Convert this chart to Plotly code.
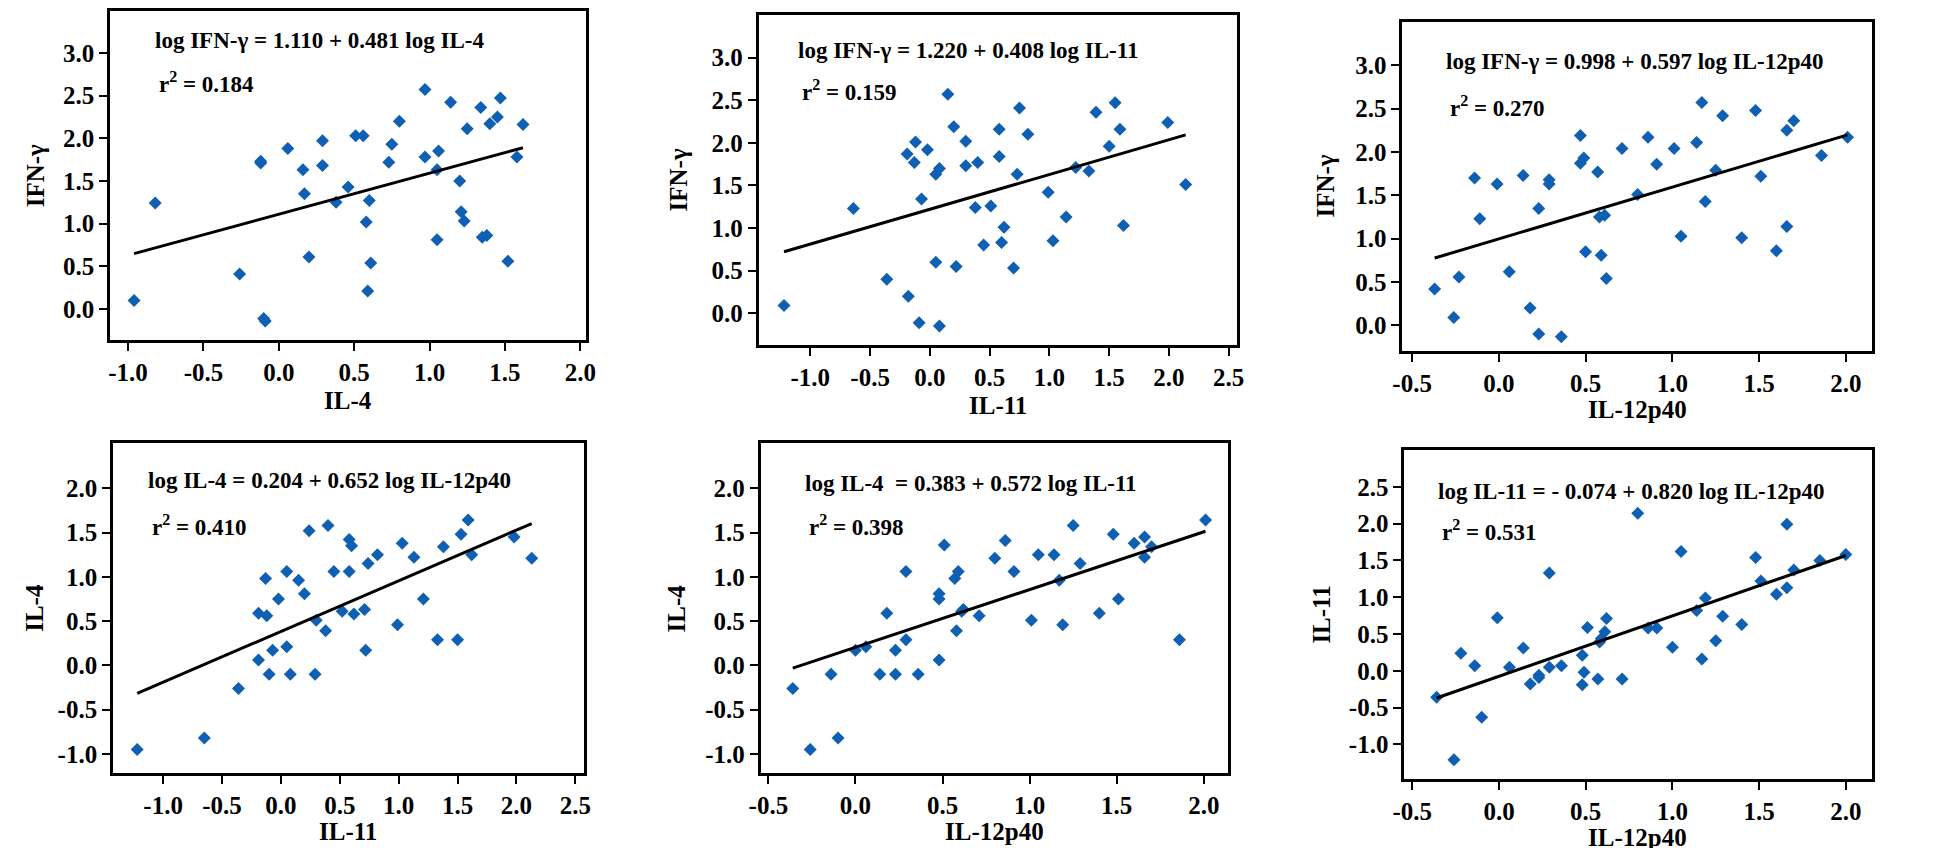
import numpy as np
import plotly.graph_objects as go

W, H = 1946, 848
FONT = "Liberation Serif, Times New Roman, serif"
BLUE = "#0F5FB2"

# ---------------- data ----------------
x1 = [-0.96, -0.82, -0.26, -0.12, -0.12, -0.10, -0.09, 0.06, 0.16, 0.17, 0.20, 0.29, 0.29, 0.38, 0.46, 0.51, 0.56, 0.58, 0.60, 0.59, 0.61, 0.73, 0.75, 0.80, 0.97, 0.97, 1.05, 1.05, 1.06, 1.14, 1.20, 1.21, 1.23, 1.25, 1.34, 1.35, 1.38, 1.40, 1.45, 1.47, 1.52, 1.58, 1.62]
y1 = [0.10, 1.24, 0.41, 1.73, 1.71, -0.11, -0.14, 1.88, 1.63, 1.35, 0.61, 1.97, 1.68, 1.25, 1.43, 2.03, 2.03, 1.02, 1.27, 0.21, 0.54, 1.72, 1.93, 2.20, 2.57, 1.78, 1.63, 0.81, 1.85, 2.42, 1.50, 1.14, 1.03, 2.11, 2.36, 0.84, 0.86, 2.17, 2.25, 2.47, 0.56, 1.78, 2.16]

x2 = [-1.22, -0.64, -0.36, -0.19, -0.18, -0.13, -0.12, -0.09, -0.07, -0.02, 0.05, 0.05, 0.08, 0.08, 0.15, 0.20, 0.22, 0.30, 0.30, 0.38, 0.40, 0.45, 0.51, 0.58, 0.58, 0.60, 0.62, 0.70, 0.73, 0.75, 0.82, 0.99, 1.03, 1.14, 1.22, 1.33, 1.39, 1.50, 1.55, 1.59, 1.62, 1.99, 2.14]
y2 = [0.09, 1.23, 0.40, 1.87, 0.20, 1.77, 2.01, -0.11, 1.34, 1.92, 1.63, 0.60, 1.70, -0.15, 2.57, 2.19, 0.55, 1.73, 2.02, 1.24, 1.77, 0.80, 1.26, 2.16, 1.84, 0.83, 1.01, 0.53, 1.63, 2.41, 2.10, 1.42, 0.85, 1.13, 1.71, 1.67, 2.36, 1.96, 2.47, 2.16, 1.03, 2.24, 1.51]

x3 = [-0.37, -0.26, -0.23, -0.14, -0.11, -0.01, 0.06, 0.14, 0.18, 0.23, 0.23, 0.29, 0.29, 0.36, 0.47, 0.47, 0.49, 0.50, 0.57, 0.58, 0.59, 0.61, 0.62, 0.71, 0.80, 0.86, 0.91, 1.01, 1.05, 1.14, 1.17, 1.19, 1.25, 1.29, 1.40, 1.48, 1.51, 1.60, 1.66, 1.66, 1.70, 1.86, 2.01]
y3 = [0.42, 0.09, 0.56, 1.70, 1.23, 1.63, 0.62, 1.73, 0.20, 1.35, -0.10, 1.68, 1.63, -0.13, 2.19, 1.87, 1.93, 0.85, 1.77, 1.25, 0.81, 1.27, 0.54, 2.04, 1.51, 2.17, 1.86, 2.04, 1.03, 2.11, 2.57, 1.43, 1.79, 2.42, 1.01, 2.48, 1.72, 0.86, 2.25, 1.14, 2.36, 1.96, 2.17]

x4 = [-1.22, -0.65, -0.36, -0.19, -0.19, -0.13, -0.12, -0.10, -0.07, -0.02, 0.05, 0.05, 0.08, 0.15, 0.20, 0.24, 0.29, 0.30, 0.38, 0.40, 0.45, 0.52, 0.58, 0.58, 0.60, 0.62, 0.71, 0.72, 0.74, 0.82, 0.99, 1.03, 1.13, 1.21, 1.33, 1.38, 1.50, 1.53, 1.59, 1.62, 1.98, 2.13]
y4 = [-0.95, -0.82, -0.26, 0.06, 0.59, 0.98, 0.56, -0.10, 0.17, 0.75, 0.21, 1.06, -0.10, 0.96, 0.81, 1.52, -0.10, 0.51, 0.39, 1.58, 1.06, 0.61, 1.06, 1.42, 1.35, 0.58, 0.63, 0.17, 1.15, 1.25, 0.46, 1.38, 1.22, 0.75, 0.29, 1.34, 0.29, 1.48, 1.64, 1.25, 1.45, 1.21]

x5 = [-0.36, -0.26, -0.14, -0.10, 0.00, 0.06, 0.14, 0.18, 0.23, 0.23, 0.29, 0.29, 0.36, 0.48, 0.48, 0.48, 0.51, 0.57, 0.58, 0.59, 0.61, 0.62, 0.71, 0.80, 0.86, 0.91, 1.01, 1.05, 1.14, 1.17, 1.19, 1.25, 1.29, 1.40, 1.48, 1.51, 1.60, 1.66, 1.66, 1.70, 1.86, 2.01]
y5 = [-0.26, -0.95, -0.10, -0.82, 0.17, 0.21, -0.10, 0.59, 0.17, -0.10, 1.06, 0.29, -0.10, 0.06, 0.81, 0.75, 1.36, 0.98, 0.39, 1.06, 0.61, 0.63, 0.56, 1.21, 1.41, 1.06, 0.51, 1.25, 1.25, 0.96, 0.46, 1.58, 1.15, 0.59, 1.48, 0.75, 1.38, 1.45, 1.22, 1.34, 0.29, 1.64]

x6 = [-0.36, -0.26, -0.22, -0.14, -0.10, -0.01, 0.06, 0.14, 0.18, 0.23, 0.23, 0.29, 0.29, 0.36, 0.48, 0.48, 0.49, 0.51, 0.57, 0.58, 0.59, 0.61, 0.62, 0.71, 0.80, 0.86, 0.91, 1.00, 1.05, 1.14, 1.17, 1.19, 1.25, 1.29, 1.40, 1.48, 1.51, 1.60, 1.66, 1.66, 1.70, 1.85, 2.00]
y6 = [-0.36, -1.21, 0.24, 0.07, -0.63, 0.72, 0.05, 0.31, -0.18, -0.09, -0.06, 1.33, 0.05, 0.07, 0.21, -0.19, -0.02, 0.59, -0.11, 0.39, 0.44, 0.53, 0.71, -0.11, 2.14, 0.58, 0.58, 0.32, 1.62, 0.82, 0.16, 0.99, 0.41, 0.74, 0.63, 1.54, 1.22, 1.04, 1.99, 1.13, 1.37, 1.50, 1.58]

# regression lines drawn (intercept, slope)
line_intercepts = [1.110, 1.220, 0.998, 0.383, 0.204, -0.074]
line_slopes = [0.481, 0.408, 0.597, 0.572, 0.652, 0.820]

equations = [
    "log IFN-γ = 1.110 + 0.481 log IL-4",
    "log IFN-γ = 1.220 + 0.408 log IL-11",
    "log IFN-γ = 0.998 + 0.597 log IL-12p40",
    "log IL-4 = 0.204 + 0.652 log IL-12p40",
    "log IL-4\u00a0 = 0.383 + 0.572 log IL-11",
    "log IL-11 = - 0.074 + 0.820 log IL-12p40",
]
r2_values = ["0.184", "0.159", "0.270", "0.410", "0.398", "0.531"]
x_titles = ["IL-4", "IL-11", "IL-12p40", "IL-11", "IL-12p40", "IL-12p40"]
y_titles = ["IFN-γ", "IFN-γ", "IFN-γ", "IL-4", "IL-4", "IL-11"]

xt_a = [-1.0, -0.5, 0.0, 0.5, 1.0, 1.5, 2.0]
xt_a_lab = ["-1.0", "-0.5", "0.0", "0.5", "1.0", "1.5", "2.0"]
xt_b = [-1.0, -0.5, 0.0, 0.5, 1.0, 1.5, 2.0, 2.5]
xt_b_lab = ["-1.0", "-0.5", "0.0", "0.5", "1.0", "1.5", "2.0", "2.5"]
xt_c = [-0.5, 0.0, 0.5, 1.0, 1.5, 2.0]
xt_c_lab = ["-0.5", "0.0", "0.5", "1.0", "1.5", "2.0"]
yt_a = [0.0, 0.5, 1.0, 1.5, 2.0, 2.5, 3.0]
yt_a_lab = ["0.0", "0.5", "1.0", "1.5", "2.0", "2.5", "3.0"]
yt_b = [-1.0, -0.5, 0.0, 0.5, 1.0, 1.5, 2.0]
yt_b_lab = ["-1.0", "-0.5", "0.0", "0.5", "1.0", "1.5", "2.0"]
yt_c = [-1.0, -0.5, 0.0, 0.5, 1.0, 1.5, 2.0, 2.5]
yt_c_lab = ["-1.0", "-0.5", "0.0", "0.5", "1.0", "1.5", "2.0", "2.5"]

xs = [x1, x2, x3, x4, x5, x6]
ys = [y1, y2, y3, y4, y5, y6]

# ---------------- layout (pixel boxes) ----------------
boxes = [
    (91, 572, 3, 332),
    (747, 1231, 7, 337),
    (1398, 1873, 14, 343),
    (94, 570, 435, 765),
    (749, 1222, 435, 765),
    (1400, 1873, 442, 771),
]
xranges = [[-1.12, 2.035], [-1.433, 2.57], [-0.557, 2.15], [-1.426, 2.57], [-0.545, 2.14], [-0.547, 2.15]]
yranges = [[-0.363, 3.49], [-0.372, 3.5], [-0.295, 3.5], [-1.214, 2.51], [-1.214, 2.51], [-1.47, 3.0]]
xticks = [(xt_a, xt_a_lab), (xt_b, xt_b_lab), (xt_c, xt_c_lab), (xt_b, xt_b_lab), (xt_c, xt_c_lab), (xt_c, xt_c_lab)]
yticks = [(yt_a, yt_a_lab), (yt_a, yt_a_lab), (yt_a, yt_a_lab), (yt_b, yt_b_lab), (yt_b, yt_b_lab), (yt_c, yt_c_lab)]

eq_pos = [(135, 33), (785, 43), (1440, 54), (127, 472), (792, 475), (1432, 483)]
r2_pos = [(139, 75), (789, 83), (1444, 98), (131, 517), (796, 517), (1436, 522)]
ytitle_x = [16, 666, 1320, 14, 664, 1316]
xtitle_y = [392, 397, 401, 823, 823, 829]


def px(x):
    return x / W


def py(y):
    return 1 - y / H


fig = go.Figure()
layout = dict(
    width=W, height=H,
    margin=dict(l=0, r=0, t=0, b=0),
    paper_bgcolor="white", plot_bgcolor="white",
    showlegend=False,
    font=dict(family=FONT, color="black", size=23, weight="bold"),
)
annotations = []

for i in range(6):
    n = i + 1
    xa = "x" if n == 1 else f"x{n}"
    ya = "y" if n == 1 else f"y{n}"
    L, R, T, B = boxes[i]
    common = dict(
        showline=True, mirror=True, linecolor="black", linewidth=2.5,
        ticks="outside", ticklen=8, tickwidth=2, tickcolor="black",
        showgrid=False, zeroline=False,
        tickfont=dict(family=FONT, size=25, color="black", weight="bold"),
        tickmode="array",
    )
    layout["xaxis" if n == 1 else f"xaxis{n}"] = dict(
        domain=[px(L), px(R)], range=xranges[i], anchor=ya,
        tickvals=xticks[i][0], ticktext=xticks[i][1], **common)
    layout["yaxis" if n == 1 else f"yaxis{n}"] = dict(
        domain=[py(B), py(T)], range=yranges[i], anchor=xa,
        tickvals=yticks[i][0], ticktext=yticks[i][1], **common)

    fig.add_trace(go.Scatter(
        x=xs[i], y=ys[i], mode="markers", xaxis=xa, yaxis=ya,
        marker=dict(symbol="diamond", size=10, color=BLUE, line=dict(width=0)),
        hoverinfo="skip"))
    xl = np.array([min(xs[i]), max(xs[i])])
    yl = line_intercepts[i] + line_slopes[i] * xl
    fig.add_trace(go.Scatter(
        x=xl, y=yl, mode="lines", xaxis=xa, yaxis=ya,
        line=dict(color="black", width=3), hoverinfo="skip"))

    ex, ey = eq_pos[i]
    annotations.append(dict(
        x=px(ex), y=py(ey), xref="paper", yref="paper", xanchor="left", yanchor="middle",
        text=equations[i], showarrow=False,
        font=dict(family=FONT, size=23, color="black", weight="bold")))
    rx, ry = r2_pos[i]
    annotations.append(dict(
        x=px(rx), y=py(ry), xref="paper", yref="paper", xanchor="left", yanchor="middle",
        text="r<sup>2</sup> = " + r2_values[i], showarrow=False,
        font=dict(family=FONT, size=23, color="black", weight="bold")))
    annotations.append(dict(
        x=px((L + R) / 2), y=py(xtitle_y[i]), xref="paper", yref="paper",
        xanchor="center", yanchor="middle", text=x_titles[i], showarrow=False,
        font=dict(family=FONT, size=25, color="black", weight="bold")))
    annotations.append(dict(
        x=px(ytitle_x[i]), y=py((T + B) / 2), xref="paper", yref="paper",
        xanchor="center", yanchor="middle", text=y_titles[i], showarrow=False,
        textangle=-90,
        font=dict(family=FONT, size=25, color="black", weight="bold")))

layout["annotations"] = annotations
fig.update_layout(**layout)
fig.write_html("out.html")
